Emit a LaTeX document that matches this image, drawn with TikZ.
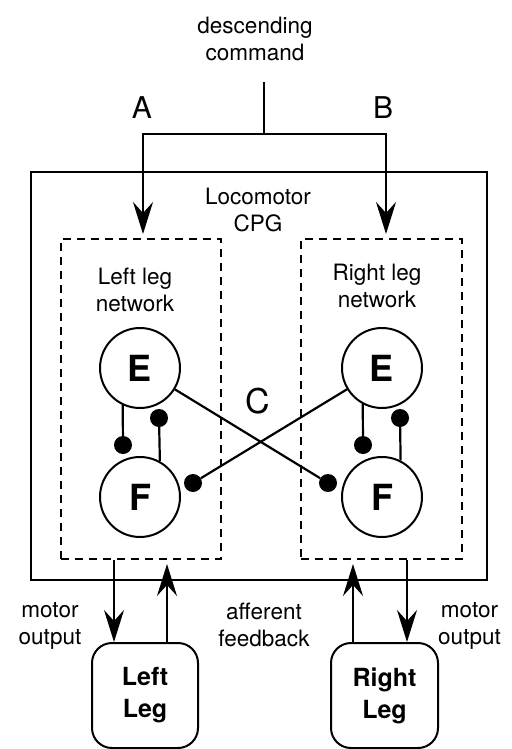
\documentclass[tikz,border=0pt]{standalone}
\usepackage{fontspec}
\setmainfont{TeX Gyre Heros}
\usetikzlibrary{arrows.meta}
\begin{document}
\begin{tikzpicture}[x=1pt,y=-1pt,
 txt/.style={font=\fontsize{22.5}{27}\selectfont, align=center, inner sep=0},
 bigl/.style={inner sep=0, font=\fontsize{30}{30}\selectfont},
 neuron/.style={circle, draw, line width=2pt, minimum size=80pt, inner sep=0, font=\fontsize{36}{40}\selectfont\bfseries},
 dotn/.style={circle, fill, minimum size=18pt, inner sep=0},
 net/.style={draw, dash pattern=on 8pt off 6pt, line width=2pt, minimum width=160pt, minimum height=320pt, inner sep=0},
 leg/.style={draw, rounded corners=20pt, line width=2pt, minimum width=106pt, minimum height=105pt, inner sep=0, align=center, font=\fontsize{25}{32}\selectfont\bfseries},
 arr/.style={line width=2.2pt, -{Stealth[length=32pt,width=20pt,inset=11pt]}},
 ln/.style={line width=2.2pt}]
\useasboundingbox (0,0) rectangle (511,749);
% texts on top
\node[txt] (desc) at (255,39) {descending\\command};
\node[bigl] (la) at (142,108) {A};
\node[bigl] (lb) at (383,108) {B};
% boxes
\node[draw, line width=1.4pt, minimum width=456pt, minimum height=408pt, inner sep=0] (cpg) at (259,376) {};
\node[txt] (cpgl) at (258,210) {Locomotor\\CPG};
\node[net] (lnet) at (141,399) {};
\node[net, minimum width=161pt] (rnet) at (381.5,399) {};
\node[txt] (lnl) at (135,290) {Left leg\\network};
\node[txt] (rnl) at (377,286) {Right leg\\network};
% neurons
\node[neuron] (le) at (140,368) {E};
\node[neuron] (lf) at (140,497) {F};
\node[neuron] (re) at (382,368) {E};
\node[neuron] (rf) at (382,497) {F};
\node[dotn] (ld1) at (123,445) {};
\node[dotn] (ld2) at (159,418) {};
\node[dotn] (rd1) at (363,445) {};
\node[dotn] (rd2) at (400,418) {};
\node[dotn] (lfd) at (193,483) {};
\node[dotn] (rfd) at (328,483) {};
\node[inner sep=0, font=\fontsize{34}{34}\selectfont] (lc) at (258,401) {C};
% legs
\node[leg] (lleg) at (145,695.5) {Left\\Leg};
\node[leg, minimum width=107pt] (rleg) at (384.5,695.5) {Right\\Leg};
\node[txt] (lmo) at (50,626) {motor\\output};
\node[txt] (aff) at (264,625) {afferent\\feedback};
\node[txt] (rmo) at (469.5,626) {motor\\output};
% descending command
\coordinate (top) at (264,82);
\coordinate (jn) at (264,134);
\coordinate (ja) at (143,134);
\coordinate (jb) at (386,134);
\draw[ln] (top) -- (jn);
\draw[arr, shorten >=4pt] (jn) -- (ja) -- (ja |- lnet.north);
\draw[arr, shorten >=4pt] (jn) -- (jb) -- (jb |- rnet.north);
% internal connections
\draw[ln] (le.-115) -- (ld1);
\draw[ln] (lf.61.6) -- (ld2);
\draw[ln] (re.-118.4) -- (rd1);
\draw[ln] (rf.63.3) -- (rd2);
\draw[ln] (le) -- (rfd);
\draw[ln] (re) -- (lfd);
% motor output and feedback
\coordinate (lmx) at (114,0);
\coordinate (lax) at (167,0);
\coordinate (rax) at (353,0);
\coordinate (rmx) at (407,0);
\draw[arr] (lnet.south -| lmx) -- (lleg.north -| lmx);
\draw[arr, shorten >=4pt] (lleg.north -| lax) -- (lnet.south -| lax);
\draw[arr, shorten >=4pt] (rleg.north -| rax) -- (rnet.south -| rax);
\draw[arr] (rnet.south -| rmx) -- (rleg.north -| rmx);
\end{tikzpicture}
\end{document}
